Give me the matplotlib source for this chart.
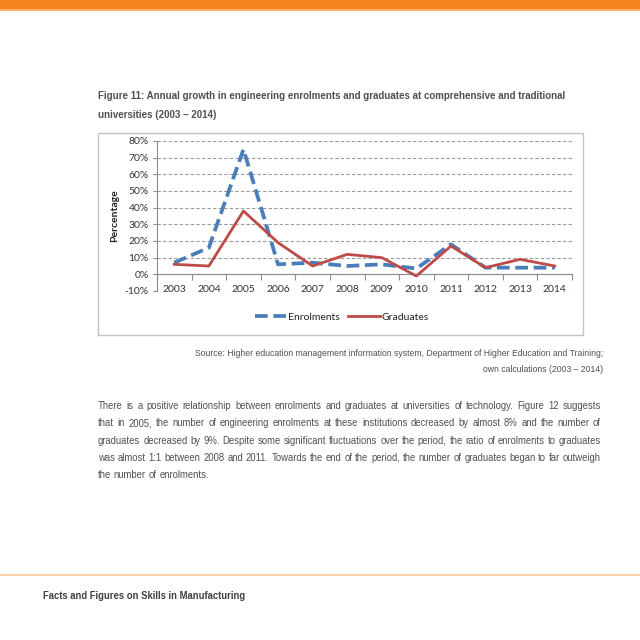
import numpy as np
import matplotlib.pyplot as plt
from matplotlib.patches import Rectangle

years = ['2003', '2004', '2005', '2006', '2007', '2008', '2009', '2010', '2011', '2012', '2013', '2014']
enrolments = [7, 16, 75, 6, 7, 5, 6, 3.5, 18, 4, 4, 4]
graduates = [6, 5, 38, 19, 5, 12, 10, -1, 17, 4, 9, 5]
yticks = [-10, 0, 10, 20, 30, 40, 50, 60, 70, 80]

title_lines = ['Figure 11: Annual growth in engineering enrolments and graduates at comprehensive and traditional',
               'universities (2003 \u2013 2014)']
source_lines = ['Source: Higher education management information system, Department of Higher Education and Training;',
                'own calculations (2003 \u2013 2014)']
para_lines = ['There is a positive relationship between enrolments and graduates at universities of technology. Figure 12 suggests',
              'that in 2005, the number of engineering enrolments at these institutions decreased by almost 8% and the number of',
              'graduates decreased by 9%. Despite some significant fluctuations over the period, the ratio of enrolments to graduates',
              'was almost 1:1 between 2008 and 2011. Towards the end of the period, the number of graduates began to far outweigh',
              'the number of enrolments.']
footer = 'Facts and Figures on Skills in Manufacturing'

W = H = 640
def fx(x): return x / W
def fy(y): return 1 - y / H

fig = plt.figure(figsize=(6.4, 6.4), dpi=100)

# page decorations
fig.patches.append(Rectangle((0, fy(9)), 1, 9 / H, transform=fig.transFigure, color='#f7841f', lw=0))
fig.patches.append(Rectangle((0, fy(11)), 1, 2 / H, transform=fig.transFigure, color='#fbb36e', lw=0))
fig.patches.append(Rectangle((0, fy(576)), 1, 2 / H, transform=fig.transFigure, color='#fbd3ab', lw=0))
fig.patches.append(Rectangle((fx(98), fy(335)), 485 / W, 202 / H, transform=fig.transFigure,
                             fill=False, ec='#c4c4c4', lw=1))

sans = 'Liberation Sans'
for i, t in enumerate(title_lines):
    fig.text(fx(98), fy(96 + i * 18.5), t, fontsize=7.0, fontweight='bold', color='#505050',
             family=sans, va='center', ha='left')
for i, t in enumerate(source_lines):
    fig.text(fx(603), fy(353 + i * 17), t, fontsize=6.25, color='#505050', family=sans,
             va='center', ha='right')
fig.text(fx(43), fy(596), footer, fontsize=6.85, fontweight='bold', color='#404040', family=sans,
         va='center', ha='left')

# justified paragraph, one text per word
renderer = fig.canvas.get_renderer()
left, right = 98, 601
psize = 6.85
for i, line in enumerate(para_lines):
    y = fy(406 + i * 17.25)
    words = line.split(' ')
    objs = [fig.text(0, y, w, fontsize=psize, color='#505050', family=sans, va='center', ha='left')
            for w in words]
    widths = [o.get_window_extent(renderer).width for o in objs]
    if i == len(para_lines) - 1:
        gap = 0.278 * psize * 100 / 72
    else:
        gap = (right - left - sum(widths)) / (len(words) - 1)
    pos = left
    for o, w in zip(objs, widths):
        o.set_x(fx(pos))
        pos += w + gap

# chart
ax = fig.add_axes([fx(157), fy(291), 415 / W, 150 / H])
x = np.arange(len(years))
ax.plot(x, enrolments, color='#4a7ebb', lw=2.7, linestyle=(0, (3.4, 1.5)), label='Enrolments',
        dash_capstyle='butt', zorder=3)
ax.plot(x, graduates, color='#be4b48', lw=2.0, label='Graduates', zorder=4)

ax.set_xlim(-0.5, len(years) - 0.5)
ax.set_ylim(-10, 80)
ax.set_yticks(yticks, labels=[f'{v}%' for v in yticks])
ax.yaxis.grid(True, color='#9a9a9a', linestyle=(0, (3, 2)), lw=0.8)
ax.set_axisbelow(True)

for s in ['top', 'right']:
    ax.spines[s].set_visible(False)
ax.spines['bottom'].set_position(('data', 0))
ax.spines['bottom'].set_color('#8c8c8c')
ax.spines['left'].set_color('#8c8c8c')

ax.set_xticks(np.arange(-0.5, len(years), 1), labels=[''] * (len(years) + 1))
ax.set_xticks(x, labels=years, minor=True)
ax.tick_params(axis='x', which='major', length=4, direction='out', color='#8c8c8c')
ax.tick_params(axis='x', which='minor', length=0, pad=8, labelsize=7.5, labelcolor='#333333')
ax.tick_params(axis='y', length=3, color='#8c8c8c', labelsize=7.5, labelcolor='#333333', pad=3)
for lbl in ax.get_xticklabels(minor=True):
    lbl.set_family('Lato')
    lbl.set_bbox(dict(fc='white', ec='none', pad=0.6))
for lbl in ax.get_yticklabels():
    lbl.set_family('Lato')

ax.set_ylabel('Percentage', fontsize=7.5, fontweight='bold', family='Lato', color='#222222', labelpad=4)

fig.legend(loc='center', bbox_to_anchor=(fx(342), fy(317)), ncol=2, frameon=False,
           prop={'family': 'Lato', 'size': 7.5}, handlelength=3.0, handletextpad=0.2,
           columnspacing=0.8, labelcolor='#222222')

fig.savefig('out.png', dpi=100)
